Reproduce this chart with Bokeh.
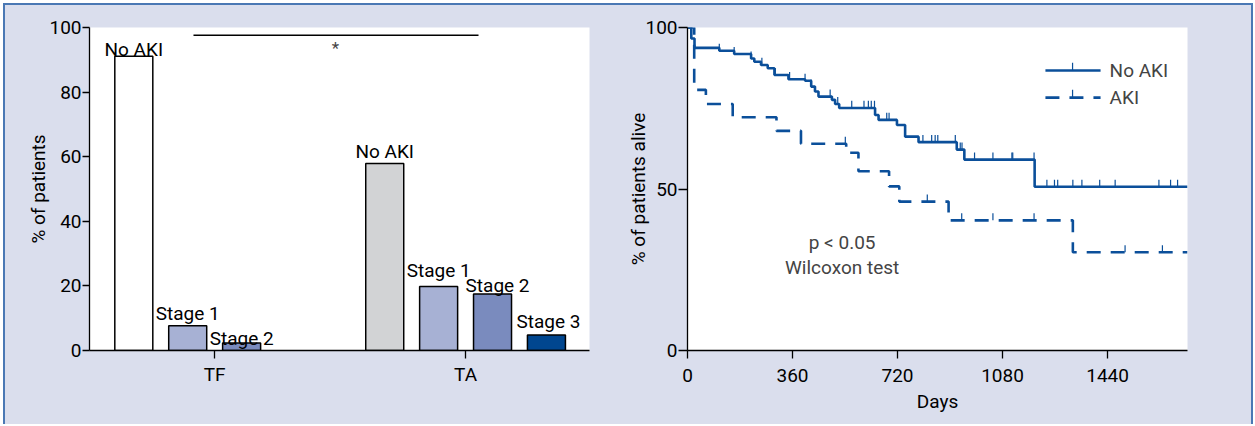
import numpy as np
from bokeh.plotting import figure
from bokeh.layouts import row
from bokeh.models import Range1d, FixedTicker, Label, ColumnDataSource
from bokeh.embed import file_html
from bokeh.resources import INLINE

# ---------------- data ----------------
groups = ["TF", "TA"]
stages = ["No AKI", "Stage 1", "Stage 2", "Stage 3"]
tf_pct = [91.1, 7.7, 2.3, None]          # no Stage 3 in TF
ta_pct = [57.9, 19.8, 17.5, 4.8]

# Kaplan-Meier (day of step, survival % after step)
noaki_t = [0, 13, 24, 109, 160, 218, 229, 252, 275, 298, 346, 403, 424, 437, 449,
           495, 506, 520, 643, 655, 718, 746, 792, 923, 949, 1190]
noaki_s = [100, 96.6, 93.7, 92.8, 91.8, 90.4, 89.4, 88.4, 87.4, 85.3, 84.0, 83.5, 81.7,
           80.2, 78.6, 77.6, 76.3, 75.1, 72.9, 71.4, 69.8, 66.2, 64.5, 62.2, 59.1, 50.7]
noaki_cens = [109, 160, 218, 255, 301, 350, 403, 424, 489, 515, 563, 605, 620, 630, 641,
              683, 691, 746, 807, 837, 849, 858, 918, 935, 941, 984, 1047, 1112, 1115,
              1188, 1232, 1258, 1269, 1321, 1352, 1413, 1466, 1616, 1656, 1680]
aki_t = [0, 23, 63, 155, 305, 389, 544, 586, 691, 726, 895, 1321]
aki_s = [100, 80.7, 76.3, 72.2, 68.0, 64.0, 61.2, 55.5, 50.8, 46.1, 40.3, 30.4]
aki_cens = [541, 822, 940, 1047, 1188, 1500, 1628]
followup_end = 1714

legend_labels = ["No AKI", "AKI"]
stat_text = ["p < 0.05", "Wilcoxon test"]

# ---------------- style ----------------
FONT = "Roboto"
FS = "19px"
LAV = "#dadeed"
BLUE = "#0b4f9a"
FRAME_BLUE = "#4a78b4"
stage_colors = {"No AKI": {"TF": "#ffffff", "TA": "#d2d3d5"},
                "Stage 1": "#a7b1d4", "Stage 2": "#7a8bbe", "Stage 3": "#00468f"}
label_dy = {("TF", "No AKI"): 7, ("TF", "Stage 1"): 12.5, ("TF", "Stage 2"): 4.5,
            ("TA", "No AKI"): 12, ("TA", "Stage 1"): 16, ("TA", "Stage 2"): 8.5,
            ("TA", "Stage 3"): 13}
label_dx = {("TA", "Stage 2"): 5, ("TA", "Stage 3"): 2}
GROUP_GAP = 4.655
BAR_W = 0.705


def style_axes(p):
    for ax in (p.xaxis[0], p.yaxis[0]):
        ax.axis_line_width = 1.3
        ax.major_tick_line_width = 1.3
        ax.minor_tick_line_color = None
        ax.major_tick_in = 0
        ax.major_label_text_font = FONT
        ax.major_label_text_font_size = FS
        ax.major_label_text_color = "black"
        ax.axis_label_text_font = FONT
        ax.axis_label_text_font_size = FS
        ax.axis_label_text_font_style = "normal"
        ax.axis_label_text_color = "black"
    p.grid.visible = False
    p.outline_line_color = None
    p.background_fill_color = "white"
    p.border_fill_color = LAV


# ---------------- panel A ----------------
xs, tops, fills, txt, dys, dxs = [], [], [], [], [], []
for gi, (g, vals) in enumerate(zip(groups, [tf_pct, ta_pct])):
    for si, (s, v) in enumerate(zip(stages, vals)):
        if v is None:
            continue
        xs.append(gi * GROUP_GAP + si)
        tops.append(v)
        c = stage_colors[s]
        fills.append(c[g] if isinstance(c, dict) else c)
        txt.append(s)
        dys.append(-label_dy[(g, s)])
        dxs.append(label_dx.get((g, s), 0))
srcA = ColumnDataSource(dict(x=xs, top=tops, fill=fills, text=txt, dy=dys, dx=dxs))

pA = figure(width=606, height=419, x_range=Range1d(-0.822, 8.454), y_range=Range1d(0, 100),
            output_backend="svg", toolbar_location=None,
            min_border_left=84, min_border_right=22, min_border_top=22, min_border_bottom=74)
style_axes(pA)
pA.vbar(x="x", top="top", bottom=0, width=BAR_W, fill_color="fill", line_color="black",
        line_width=1.5, source=srcA)
pA.text(x="x", y="top", text="text", x_offset="dx", y_offset="dy", source=srcA,
        text_font={"value": FONT}, text_font_size=FS, text_align="center",
        text_baseline="alphabetic", text_color="black")
pA.xaxis.ticker = FixedTicker(ticks=[gi * GROUP_GAP + 1.5 for gi in range(len(groups))])
pA.xaxis.major_label_overrides = {gi * GROUP_GAP + 1.5: g for gi, g in enumerate(groups)}
pA.xaxis.major_tick_out = 8
pA.xaxis.major_label_standoff = 4
pA.yaxis.ticker = FixedTicker(ticks=[0, 20, 40, 60, 80, 100])
pA.yaxis.major_tick_out = 7
pA.yaxis.major_label_standoff = 1
pA.yaxis.axis_label = "% of patients"
pA.yaxis.axis_label_standoff = -4
# significance bracket
pA.line(x=[1.107, 6.395], y=[97.6, 97.6], line_color="black", line_width=1.3)
pA.add_layout(Label(x=3.742, y=93.5, text="*", text_font=FONT, text_font_size="17px",
                    text_align="center", text_baseline="middle"))
pA.add_layout(Label(x=-1.833, y=100, text="A", text_font=FONT, text_font_size=FS,
                    text_font_style="bold", text_align="center", text_baseline="middle"))

# ---------------- panel B ----------------
pB = figure(width=640, height=419, x_range=Range1d(0, followup_end), y_range=Range1d(0, 100),
            output_backend="svg", toolbar_location=None,
            min_border_left=76, min_border_right=64, min_border_top=22, min_border_bottom=72)
style_axes(pB)
pB.xaxis.ticker = FixedTicker(ticks=[0, 360, 720, 1080, 1440])
pB.yaxis.ticker = FixedTicker(ticks=[0, 50, 100])
pB.xaxis.major_tick_out = 8
pB.xaxis.major_label_standoff = 10
pB.yaxis.major_tick_out = 9
pB.yaxis.major_label_standoff = 1
pB.xaxis.axis_label = "Days"
pB.xaxis.axis_label_standoff = 5
pB.yaxis.axis_label = "% of patients alive"
pB.yaxis.axis_label_standoff = -8


def km(p, t, s, cens, dash):
    xs_ = list(t) + [followup_end]
    ys_ = list(s) + [s[-1]]
    p.step(x=xs_, y=ys_, mode="after", line_color=BLUE, line_width=2.6, line_dash=dash)
    idx = np.searchsorted(np.array(t), np.array(cens), side="right") - 1
    lv = np.array(s)[idx]
    p.segment(x0=cens, y0=lv, x1=cens, y1=lv + 2.2, line_color=BLUE, line_width=1.2)


km(pB, noaki_t, noaki_s, noaki_cens, "solid")
km(pB, aki_t, aki_s, aki_cens, "14 10")

# legend (drawn by hand)
leg_y = [86.7, 78.3]
leg_dash = ["solid", "14 10"]
for lab, ly, dsh in zip(legend_labels, leg_y, leg_dash):
    pB.line(x=[1227, 1416], y=[ly, ly], line_color=BLUE, line_width=2.6, line_dash=dsh)
    pB.segment(x0=[1320], y0=[ly], x1=[1320], y1=[ly + 2.4], line_color=BLUE, line_width=1.2)
    pB.add_layout(Label(x=1447, y=ly, text=lab, text_font=FONT, text_font_size=FS,
                        text_baseline="middle", text_align="left"))
for t_, yy in zip(stat_text, [33.4, 25.7]):
    pB.add_layout(Label(x=530, y=yy, text=t_, text_font=FONT, text_font_size=FS,
                        text_baseline="middle", text_align="center"))
pB.add_layout(Label(x=-192, y=100, text="B", text_font=FONT, text_font_size=FS,
                    text_font_style="bold", text_align="center", text_baseline="middle"))

layout = row(pA, pB, spacing=0,
             styles={"margin-left": "3px", "margin-top": "3px",
                     "background-color": LAV,
                     "border-left": f"2px solid {FRAME_BLUE}",
                     "border-top": f"2px solid {FRAME_BLUE}",
                     "border-right": f"2px solid {FRAME_BLUE}"})
open("out.html", "w").write(file_html(layout, INLINE))
